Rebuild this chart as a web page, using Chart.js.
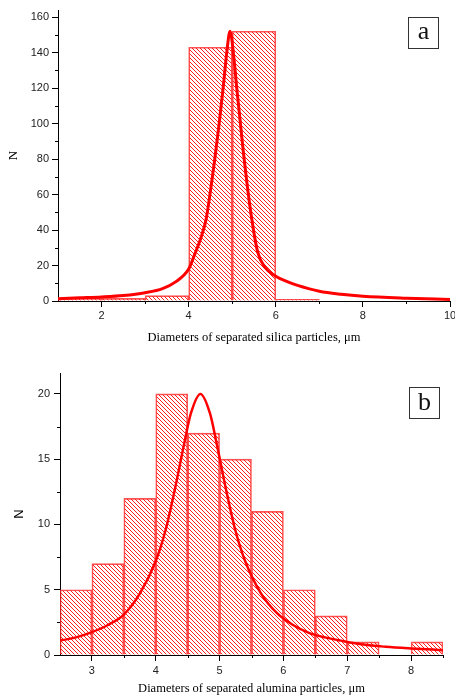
<!DOCTYPE html>
<html>
<head>
<meta charset="utf-8">
<script src="https://cdn.jsdelivr.net/npm/chart.js@4.4.1/dist/chart.umd.min.js"></script>
<style>
    html, body { margin: 0; padding: 0; background: #fff; overflow: hidden; }
    body { width: 455px; height: 699px; position: relative; }
    .plot { position: absolute; left: 0; width: 460px; }
    .tag {
        position: absolute; box-sizing: border-box; border: 1px solid #333;
        font-family: 'Liberation Serif', serif; font-size: 26px; color: #111;
        display: flex; align-items: center; justify-content: center; line-height: 1;
    }
</style>
</head>
<body>
<div class="plot" style="top:0;height:345px"><canvas id="silicaChart"></canvas></div>
<div class="plot" style="top:360px;height:336px"><canvas id="aluminaChart"></canvas></div>
<div class="tag" style="left:408px;top:17px;width:31px;height:32px;padding-bottom:5px">a</div>
<div class="tag" style="left:409px;top:387px;width:31px;height:32px;padding-bottom:2px">b</div>

<script>
// (a) silica: histogram bins (centres, width 1 µm) and counts
const silicaBinCenters = [1.5, 2.5, 3.5, 4.5, 5.5, 6.5];
const silicaCounts = [1.5, 1.5, 3, 143, 152, 1];
// fitted curve
const silicaFitX = [1, 1.5, 2, 2.5, 3, 3.4, 3.7, 4, 4.15, 4.3, 4.4, 4.5, 4.6, 4.7, 4.8, 4.87, 4.95,
    5.03, 5.1, 5.18, 5.26, 5.35, 5.45, 5.58, 5.75, 6, 6.25, 6.5, 7, 7.5, 8, 9, 10];
const silicaFitY = [1.3, 1.8, 2.3, 3.1, 4.7, 7.0, 10.8, 18, 27, 37, 46, 62, 80, 100, 122, 139, 152,
    139, 121, 102, 83, 64, 46, 28, 19, 14, 11, 8.8, 5.5, 3.8, 2.7, 1.6, 0.9];
const silicaXTicks = [2, 4, 6, 8, 10];
const silicaXMinor = [3, 5, 7, 9];
const silicaYTicks = [0, 20, 40, 60, 80, 100, 120, 140, 160];
const silicaYMinor = [10, 30, 50, 70, 90, 110, 130, 150];

// (b) alumina: histogram bins (centres, width 0.5 µm) and counts
const aluminaBinCenters = [2.75, 3.25, 3.75, 4.25, 4.75, 5.25, 5.75, 6.25, 6.75, 7.25, 7.75, 8.25];
const aluminaCounts = [5, 7, 12, 20, 17, 15, 11, 5, 3, 1, 0, 1];
const aluminaFitX = [2.5, 2.75, 3, 3.25, 3.5, 3.75, 4, 4.15, 4.3, 4.45, 4.55, 4.7, 4.85, 4.95,
    5.1, 5.25, 5.4, 5.65, 5.9, 6.15, 6.4, 6.65, 6.9, 7.25, 7.6, 8, 8.5];
const aluminaFitY = [1.1, 1.35, 1.75, 2.3, 3.1, 4.7, 7.2, 9.5, 12.7, 16.3, 18.5, 20, 18.5, 16.3,
    12.7, 9.5, 7.2, 4.7, 3.2, 2.3, 1.7, 1.35, 1.1, 0.8, 0.63, 0.5, 0.37];
const aluminaXTicks = [3, 4, 5, 6, 7, 8];
const aluminaXMinor = [3.5, 4.5, 5.5, 6.5, 7.5, 8.5];
const aluminaYTicks = [0, 5, 10, 15, 20];
const aluminaYMinor = [2.5, 7.5, 12.5, 17.5];

// штриховка столбцов "\\\"
function hatch() {
    const c = document.createElement('canvas');
    c.width = c.height = 4;
    const g = c.getContext('2d');
    g.strokeStyle = '#ff2020';
    g.lineWidth = 1;
    g.beginPath();
    g.moveTo(-1, -1); g.lineTo(5, 5);
    g.moveTo(-1, 3); g.lineTo(1, 5);
    g.moveTo(3, -1); g.lineTo(5, 1);
    g.stroke();
    return g.createPattern(c, 'repeat');
}

// короткие промежуточные засечки на осях
function minorTicks(xs, ys, len) {
    return {
        id: 'minorTicks',
        afterDraw(chart) {
            const { ctx, chartArea, scales } = chart;
            ctx.save();
            ctx.strokeStyle = '#000';
            ctx.lineWidth = 1;
            ctx.beginPath();
            xs.forEach(v => {
                const px = Math.round(scales.x.getPixelForValue(v)) + 0.5;
                ctx.moveTo(px, chartArea.bottom);
                ctx.lineTo(px, chartArea.bottom + len);
            });
            ys.forEach(v => {
                const py = Math.round(scales.y.getPixelForValue(v)) + 0.5;
                ctx.moveTo(chartArea.left, py);
                ctx.lineTo(chartArea.left - len, py);
            });
            ctx.stroke();
            ctx.restore();
        }
    };
}

function histChart(id, cfg) {
    const tickFont = { family: 'Liberation Sans', size: 11 };
    new Chart(document.getElementById(id), {
        type: 'bar',
        data: {
            datasets: [{
                type: 'line',
                data: cfg.fitX.map((x, i) => ({ x: x, y: cfg.fitY[i] })),
                borderColor: '#ff0000',
                borderWidth: cfg.lineWidth,
                pointRadius: 0,
                cubicInterpolationMode: 'monotone',
                order: 0
            }, {
                type: 'bar',
                data: cfg.centers.map((x, i) => ({ x: x, y: cfg.counts[i] })),
                backgroundColor: hatch(),
                borderColor: 'rgba(255, 40, 40, 0.8)',
                borderWidth: 1,
                barPercentage: 1,
                categoryPercentage: 1,
                order: 1
            }]
        },
        options: {
            responsive: true,
            maintainAspectRatio: false,
            animation: false,
            layout: { padding: cfg.padding },
            plugins: { legend: { display: false }, tooltip: { enabled: false } },
            scales: {
                x: {
                    type: 'linear',
                    min: cfg.xMin,
                    max: cfg.xMax,
                    offset: false,
                    afterBuildTicks: a => { a.ticks = cfg.xTicks.map(v => ({ value: v })); },
                    afterFit: s => { s.height = cfg.xHeight; },
                    grid: { drawOnChartArea: false, offset: false, tickLength: 6, tickColor: '#000' },
                    border: { color: '#000', width: 1 },
                    ticks: { font: tickFont, color: '#222', padding: cfg.xPad, maxRotation: 0, autoSkip: false },
                    title: {
                        display: true,
                        text: cfg.xTitle,
                        font: { family: 'Liberation Serif', size: 12.5 },
                        color: '#000',
                        padding: { top: 0, bottom: 0 }
                    }
                },
                y: {
                    min: 0,
                    max: cfg.yMax,
                    afterBuildTicks: a => { a.ticks = cfg.yTicks.map(v => ({ value: v })); },
                    afterFit: s => { s.width = cfg.yWidth; },
                    grid: { drawOnChartArea: false, tickLength: 6, tickColor: '#000' },
                    border: { color: '#000', width: 1 },
                    ticks: { font: tickFont, color: '#222', padding: cfg.yPad },
                    title: {
                        display: true,
                        text: 'N',
                        font: cfg.nFont,
                        color: '#000',
                        padding: { top: cfg.nPad, bottom: 0 }
                    }
                }
            }
        },
        plugins: [minorTicks(cfg.xMinor, cfg.yMinor, 3)]
    });
}

document.addEventListener('DOMContentLoaded', function() {
    histChart('silicaChart', {
        centers: silicaBinCenters, counts: silicaCounts,
        fitX: silicaFitX, fitY: silicaFitY, lineWidth: 3,
        xMin: 1, xMax: 10, xTicks: silicaXTicks, xMinor: silicaXMinor,
        yMax: 164, yTicks: silicaYTicks, yMinor: silicaYMinor,
        padding: { top: 10, right: 10, bottom: 0, left: 0 },
        xHeight: 44, yWidth: 58, xPad: 2, yPad: 3,
        xTitle: 'Diameters of separated silica particles, μm',
        nFont: { family: 'Liberation Serif', size: 13 }, nPad: 6
    });
    histChart('aluminaChart', {
        centers: aluminaBinCenters, counts: aluminaCounts,
        fitX: aluminaFitX, fitY: aluminaFitY, lineWidth: 2.5,
        xMin: 2.5, xMax: 8.5, xTicks: aluminaXTicks, xMinor: aluminaXMinor,
        yMax: 21.6, yTicks: aluminaYTicks, yMinor: aluminaYMinor,
        padding: { top: 13, right: 17, bottom: 0, left: 0 },
        xHeight: 41, yWidth: 60, xPad: 3, yPad: 4,
        xTitle: 'Diameters of separated alumina particles, μm',
        nFont: { family: 'Liberation Sans', size: 13 }, nPad: 12
    });
});
</script>
</body>
</html>
